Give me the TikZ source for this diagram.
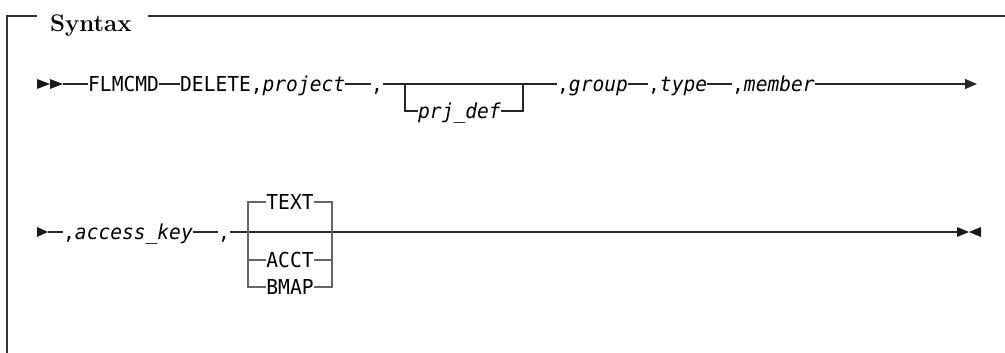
\documentclass[tikz,border=0pt]{standalone}
\usepackage{fontspec}
\newfontfamily\diagfont[FakeStretch=0.95, ItalicFont={DejaVu Sans Mono Oblique}]{DejaVu Sans Mono}
\newcommand{\synfont}{\diagfont\fontsize{20.6pt}{24pt}\selectfont}
\usetikzlibrary{arrows.meta}

\begin{document}
\begin{tikzpicture}[
  x=1pt, y=1pt,
  tok/.style={font=\synfont, inner sep=0pt, text height=15pt, text depth=0pt, anchor=west},
  rail/.style={draw=black!85, line width=1.2pt},
  stack/.style={draw=black!60, line width=1.2pt},
  frame/.style={draw=black!80, line width=1.5pt},
  tip/.style={fill=black!90},
  endtip/.style={-{Triangle[length=12pt,width=10pt]}}
]
\useasboundingbox (0,0) rectangle (1005,353);

%% Frame and title
\node[font=\bfseries\fontsize{24pt}{28pt}\selectfont, inner sep=0pt, anchor=base west] (title) at (50,321) {Syntax};
\draw[frame] (37,337) -- (7,337) -- (7,0);
\draw[frame] (148,337) -- (1005,337);

%% First line
\fill[tip] (37,274) -- (50,269) -- (37,264) -- cycle;
\fill[tip] (50,274) -- (63,269) -- (50,264) -- cycle;
\coordinate (s1) at (63,269);
\node[tok] (cmd) at (88,269) {FLMCMD};
\node[tok] (del) at (180,269) {DELETE,\textit{project}};
\node[tok] (c1) at (371,269) {,};
\node[tok] (prj) at (418,242) {\textit{prj\_def}};
\node[tok] (grp) at (557,269) {,\textit{group}};
\node[tok] (typ) at (648,269) {,\textit{type}};
\node[tok] (mem) at (732,269) {,\textit{member}};
\coordinate (b1) at (405,269);
\coordinate (b2) at (523,269);
\coordinate (e1) at (977,269);
\draw[rail] (s1) -- (cmd.west);
\draw[rail] (cmd.east) -- (del.west);
\draw[rail] (del.east) -- (c1.west);
\draw[rail] (c1.east) -- (grp.west);
\draw[rail] (b1) |- (prj.west);
\draw[rail] (prj.east) -| (b2);
\draw[rail] (grp.east) -- (typ.west);
\draw[rail] (typ.east) -- (mem.west);
\draw[rail, endtip] (mem.east) -- (e1);

%% Second line
\fill[tip] (37,126) -- (48,121) -- (37,116) -- cycle;
\coordinate (s2) at (48,121);
\node[tok] (key) at (63,121) {,\textit{access\_key}};
\node[tok] (c2) at (218,121) {,};
\coordinate (e2) at (957,121);
\draw[rail] (s2) -- (key.west);
\draw[rail] (key.east) -- (c2.west);
\draw[rail] (c2.east) -- (e2);
\fill[tip] (957,126) -- (969,121) -- (957,116) -- cycle;
\fill[tip] (981,126) -- (969,121) -- (981,116) -- cycle;

%% Choice stack
\foreach \nm/\y in {TEXT/151, ACCT/93, BMAP/66}{
  \node[tok, anchor=center] (\nm) at (290,\y) {\nm};
}
\coordinate (lt) at (248,151);
\coordinate (lb) at (248,66);
\coordinate (rt) at (332,151);
\coordinate (rb) at (332,66);
\draw[stack] (TEXT.west) -- (lt) -- (lb) -- (BMAP.west);
\draw[stack] (TEXT.east) -- (rt) -- (rb) -- (BMAP.east);
\draw[stack] (lt |- ACCT) -- (ACCT.west);
\draw[stack] (ACCT.east) -- (rt |- ACCT);
\end{tikzpicture}
\end{document}
